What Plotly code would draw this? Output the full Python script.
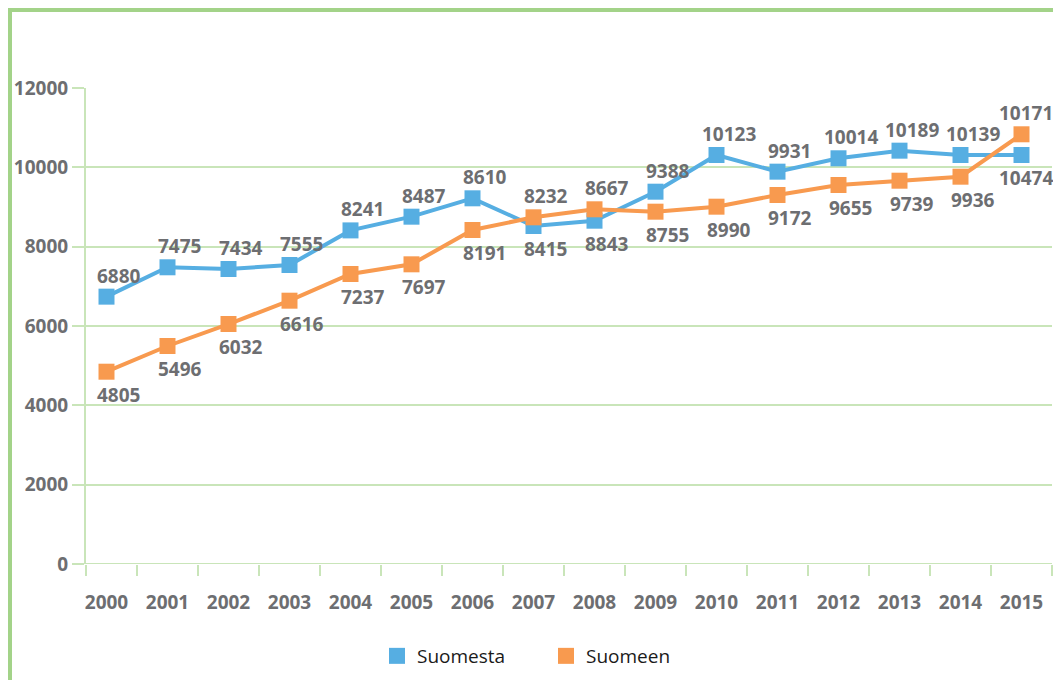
import plotly.graph_objects as go

years = list(range(2000, 2016))
suomesta = [6740, 7480, 7437, 7538, 8410, 8756, 9219, 8521, 8655, 9386, 10311, 9891, 10228, 10420, 10311, 10311]
suomeen = [4848, 5496, 6050, 6638, 7311, 7555, 8420, 8740, 8942, 8882, 9008, 9302, 9555, 9663, 9764, 10833]
suomesta_labels = ["6880", "7475", "7434", "7555", "8241", "8487", "8610", "8415", "8843", "9388",
                   "10123", "9931", "10014", "10189", "10139", "10474"]
suomeen_labels = ["4805", "5496", "6032", "6616", "7237", "7697", "8191", "8232", "8667", "8755",
                  "8990", "9172", "9655", "9739", "9936", "10171"]
yticks = [0, 2000, 4000, 6000, 8000, 10000, 12000]
yticktext = ["0", "2000", "4000", "6000", "8000", "10000", "12000"]

# label placement styles (1 = above, -1 = below)
suomesta_side = [1, 1, 1, 1, 1, 1, 1, -1, -1, 1, 1, 1, 1, 1, 1, -1]
suomeen_side = [-1, -1, -1, -1, -1, -1, -1, 1, 1, -1, -1, -1, -1, -1, -1, 1]
xshifts = [12] * 15 + [4]

BLUE = "#56AEE2"
ORANGE = "#F89A4F"
GRID = "#C9E5B9"
FRAME = "#A3D389"
GRAY = "#6D6E71"
FONT = "Open Sans"
TXT = dict(family=FONT, size=19, color=GRAY, weight=700)

W, H = 1053, 672
L, T = 78, 80           # plot area left/top in figure px
PW, PH = 966.0, 476.0   # plot area size

fig = go.Figure()
for name, vals, col in [("Suomesta", suomesta, BLUE), ("Suomeen", suomeen, ORANGE)]:
    fig.add_trace(go.Scatter(x=years, y=vals, mode="lines+markers", name=name,
                             line=dict(color=col, width=4),
                             marker=dict(symbol="square", size=16, color=col),
                             showlegend=False, cliponaxis=False))
for name, col in [("Suomesta", BLUE), ("Suomeen", ORANGE)]:
    fig.add_trace(go.Scatter(x=[None], y=[None], mode="markers", name=name,
                             marker=dict(symbol="square", size=16, color=col)))

for vals, labels, sides in [(suomesta, suomesta_labels, suomesta_side),
                            (suomeen, suomeen_labels, suomeen_side)]:
    for yr, v, lab, s, xs in zip(years, vals, labels, sides, xshifts):
        fig.add_annotation(x=yr, y=v, text=lab, showarrow=False,
                           xshift=xs, yshift=21 if s > 0 else -23, font=TXT)

# frame lines
def px_x(p):
    return (p - L) / PW

def px_y(p):
    return (T + PH - p) / PH

fig.add_shape(type="line", xref="paper", yref="paper", x0=px_x(0), x1=px_x(W + 5),
              y0=px_y(2), y1=px_y(2), line=dict(color=FRAME, width=4))
fig.add_shape(type="line", xref="paper", yref="paper", x0=px_x(2), x1=px_x(2),
              y0=px_y(0), y1=px_y(H + 5), line=dict(color=FRAME, width=4))

fig.update_layout(
    width=W, height=H,
    margin=dict(l=L, r=W - L - int(PW), t=T, b=H - T - int(PH)),
    paper_bgcolor="white", plot_bgcolor="white",
    xaxis=dict(range=[1999.664, 2015.5], tickvals=years, ticktext=[str(y) for y in years],
               ticks="outside", ticklen=21, tickcolor="rgba(0,0,0,0)", automargin=False,
               showgrid=False, zeroline=False, showline=False, tickfont=TXT,
               minor=dict(tickvals=[1999.665] + [y + 0.5 for y in years],
                          ticks="outside", ticklen=11, tickcolor=GRID, tickwidth=2, showgrid=False)),
    yaxis=dict(range=[0, 12000], tickvals=yticks, ticktext=yticktext, ticks="outside", ticklen=12,
               tickcolor=GRID, automargin=False,
               tickwidth=2, showgrid=True, gridcolor=GRID, gridwidth=2, zeroline=False,
               showline=True, linecolor=GRID, linewidth=2, tickfont=TXT),
    legend=dict(orientation="h", xref="container", yref="container",
                x=369 / W, y=1 - 648 / H, xanchor="left", yanchor="middle",
                font=dict(family=FONT, size=19, color="#1a1a1a"),
                entrywidth=124, entrywidthmode="pixels"),
)
fig.add_shape(type="line", xref="paper", yref="y", x0=0, x1=1, y0=0, y1=0,
              line=dict(color=GRID, width=2))

fig.write_html("out.html")
